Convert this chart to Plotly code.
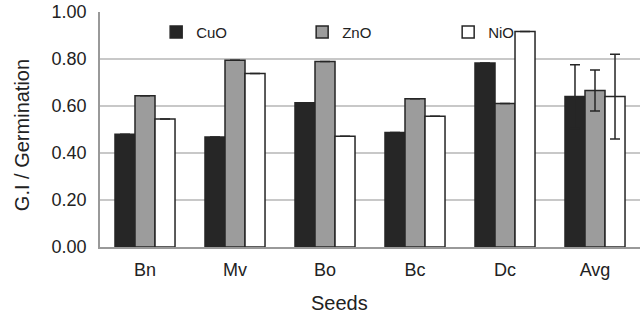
import plotly.graph_objects as go

seeds = ["Bn", "Mv", "Bo", "Bc", "Dc", "Avg"]
cuo = [0.48, 0.468, 0.614, 0.487, 0.783, 0.640]
zno = [0.644, 0.795, 0.789, 0.631, 0.611, 0.666]
nio = [0.545, 0.738, 0.471, 0.556, 0.917, 0.640]
cuo_err = [0, 0, 0, 0, 0, 0.136]
zno_err = [0, 0, 0, 0, 0, 0.087]
nio_err = [0, 0, 0, 0, 0, 0.180]

series = [
    ("CuO", cuo, cuo_err, "#262626"),
    ("ZnO", zno, zno_err, "#9c9c9c"),
    ("NiO", nio, nio_err, "#ffffff"),
]

fig = go.Figure()
for name, vals, errs, color in series:
    fig.add_trace(go.Bar(
        name=name, x=seeds, y=vals,
        marker=dict(color=color, line=dict(color="#262626", width=1.5)),
        error_y=dict(type="data", array=errs, visible=True, color="#262626",
                     thickness=1.5, width=5),
    ))

font = "Liberation Sans, Arial, sans-serif"
fig.update_layout(
    width=644, height=320,
    margin=dict(l=100, r=4, t=12, b=73, autoexpand=False),
    paper_bgcolor="white", plot_bgcolor="white",
    barmode="group", bargap=0.333, bargroupgap=0,
    font=dict(family=font, size=18, color="#222222"),
    showlegend=True,
    legend=dict(orientation="h", x=0.104, y=0.914, xanchor="left", yanchor="middle",
                entrywidth=101, entrywidthmode="pixels",
                font=dict(size=15, color="#222222"), bgcolor="rgba(0,0,0,0)",
                traceorder="normal"),
    xaxis=dict(showline=True, linecolor="#999999", linewidth=1.5, automargin=False,
               ticks="", tickfont=dict(size=18), showgrid=False, ticklabelstandoff=6),
    yaxis=dict(range=[0, 1.0], tickvals=[0, 0.2, 0.4, 0.6, 0.8, 1.0], tickformat=".2f",
               showline=True, linecolor="#999999", linewidth=1.5, automargin=False,
               showgrid=True, gridcolor="#c8c8c8", gridwidth=1.5,
               zeroline=False, ticks="", tickfont=dict(size=18), ticklabelstandoff=8),
    annotations=[
        dict(text="Seeds", xref="paper", yref="paper", x=0.444, y=-0.24,
             xanchor="center", yanchor="middle", showarrow=False,
             font=dict(size=20, color="#222222")),
        dict(text="G.I / Germination", xref="paper", yref="paper", x=-0.143, y=0.475,
             xanchor="center", yanchor="middle", showarrow=False, textangle=-90,
             font=dict(size=20, color="#222222")),
    ],
)

fig.write_html("out.html", config={"displayModeBar": False},
               post_script="document.body.style.margin='0';document.body.style.overflow='hidden';")
